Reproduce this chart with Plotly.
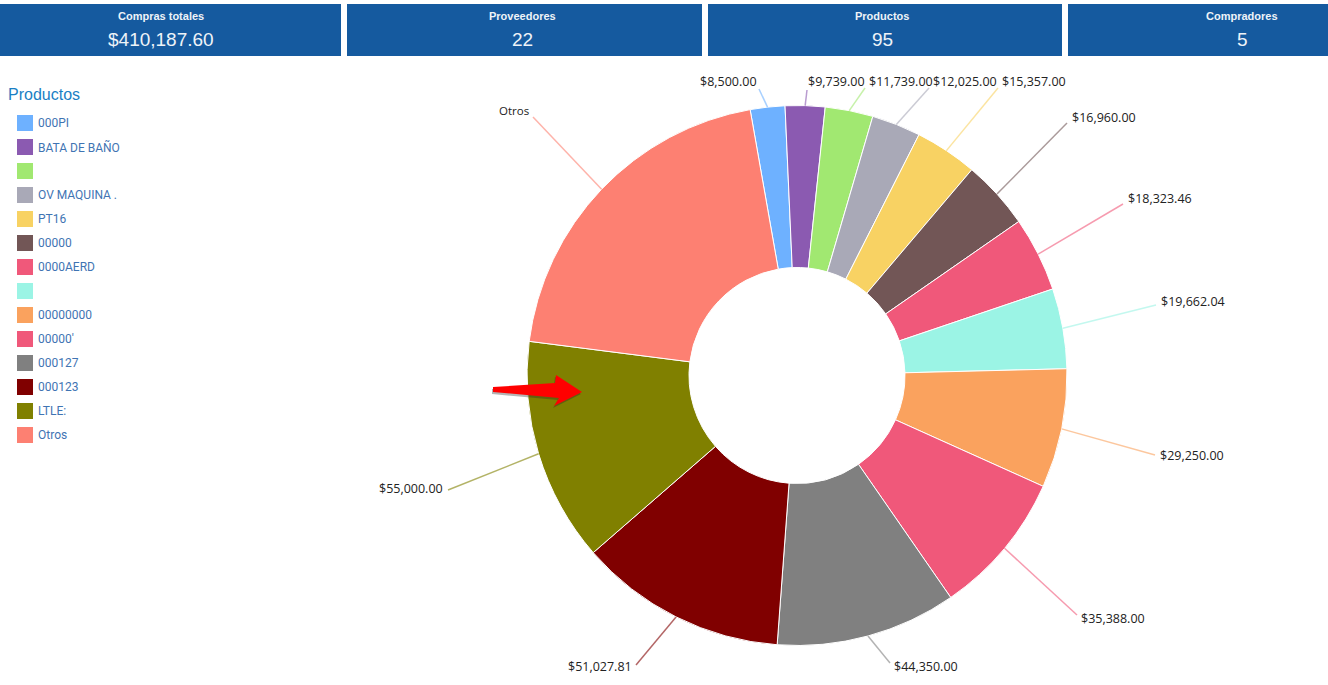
import numpy as np
import plotly.graph_objects as go

W = 1328
H = 685

# kpi cards
card_titles = ["Compras totales", "Proveedores", "Productos", "Compradores"]
card_values = ["$410,187.60", "22", "95", "5"]
card_left = [-2, 347, 708, 1068]
card_right = [341, 702, 1062, 1330]
card_center = [161, 522, 882, 1242]

# pie data
productos = ["000PI", "BATA DE BAÑO", " ", "OV MAQUINA .", "PT16", "00000", "0000AERD",
             "  ", "00000000", "00000'", "000127", "000123", "LTLE:", "Otros"]
montos = [8500.00, 9739.00, 11739.00, 12025.00, 15357.00, 16960.00, 18323.46,
          19662.04, 29250.00, 35388.00, 44350.00, 51027.81, 55000.00, 82866.29]
colores = ["#6eb1ff", "#8b5ab1", "#a1e871", "#a9a9b7", "#f8d263", "#725656", "#f0587a",
           "#9bf4e5", "#faa25e", "#f0587a", "#808080", "#800000", "#808000", "#fd8072"]

# where the leader lines end and the labels sit, in pixels
end_x = [759, 807, 865, 929, 998, 1067, 1123, 1156, 1155, 1077, 890, 636, 448, 533]
end_y = [89, 90, 88, 88, 88, 123, 204, 305, 455, 615, 663, 665, 490, 117]
label_x = [700, 808, 869, 933, 1002, 1072, 1128, 1161, 1160, 1081, 894, 632, 443, 529]
label_y = [82, 82, 82, 82, 82, 117, 199, 301, 455, 618, 666, 666, 488, 110]
label_side = ["left", "left", "left", "left", "left", "left", "left",
              "left", "left", "left", "left", "right", "right", "right"]

CX, CY, R = 797, 375.5, 270
ROTATION = 350


def px(x):
    return x / W


def py(y):
    return 1 - y / H


fig = go.Figure()
fig.add_trace(go.Pie(
    labels=productos,
    values=montos,
    sort=False,
    direction="clockwise",
    rotation=ROTATION,
    hole=0.4,
    textinfo="none",
    marker=dict(colors=colores, line=dict(color="white", width=1)),
    domain=dict(x=[px(CX - R), px(CX + R)], y=[py(CY + R), py(CY - R)]),
    showlegend=False,
))

shapes = []
annotations = []


def rgba(c, a):
    return f"rgba({int(c[1:3], 16)},{int(c[3:5], 16)},{int(c[5:7], 16)},{a})"


def add_text(x, y, text, side, family, size, color):
    annotations.append(dict(x=px(x), y=py(y), text=text, showarrow=False,
                            xref="paper", yref="paper", xanchor=side, yanchor="middle",
                            borderpad=0, borderwidth=0,
                            font=dict(family=family, size=size, color=color)))


# cards
for t, v, l, r, c in zip(card_titles, card_values, card_left, card_right, card_center):
    shapes.append(dict(type="rect", xref="paper", yref="paper", x0=px(l), x1=px(r),
                       y0=py(56), y1=py(4), fillcolor="#155a9f", line=dict(width=0)))
    add_text(c, 16, f"<b>{t}</b>", "center", "Liberation Sans", 11, "#eef3f8")
    add_text(c, 39, v, "center", "Liberation Sans", 19, "#eef3f8")

# legend
add_text(8, 94, "Productos", "left", "Liberation Sans", 16, "#1a7fc4")
for i, (p, c) in enumerate(zip(productos, colores)):
    yc = 123 + 24 * i
    shapes.append(dict(type="rect", xref="paper", yref="paper", x0=px(17), x1=px(33),
                       y0=py(yc + 8), y1=py(yc - 8), fillcolor=c, line=dict(width=0)))
    if p.strip():
        add_text(38, yc, p, "left", "Roboto", 12, "#3f74b3")

# leader lines and labels
fracs = np.array(montos) / np.sum(montos)
mids = np.radians(ROTATION + 360 * (np.cumsum(fracs) - fracs / 2))
for i, v in enumerate(montos):
    sx = CX + R * np.sin(mids[i])
    sy = CY - R * np.cos(mids[i])
    shapes.append(dict(type="line", xref="paper", yref="paper", x0=px(sx), y0=py(sy),
                       x1=px(end_x[i]), y1=py(end_y[i]),
                       line=dict(color=rgba(colores[i], 0.6), width=1.5)))
    if productos[i] == "Otros":
        add_text(label_x[i], label_y[i], "Otros", label_side[i], "Open Sans", 11.5, "#222222")
    else:
        add_text(label_x[i], label_y[i], f"${v:,.2f}", label_side[i], "Open Sans", 12.5, "#222222")

# red arrow pointing at the LTLE slice
arrow = [(493, 387), (555, 383), (556, 375), (582, 392), (554, 406), (559, 398), (493, 392)]


def arrow_path(dx, dy):
    pts = [f"{px(x + dx)},{py(y + dy)}" for x, y in arrow]
    return "M" + " L".join(pts) + " Z"


shapes.append(dict(type="path", xref="paper", yref="paper", path=arrow_path(-1, 2),
                   fillcolor="rgba(40,40,40,0.35)", line=dict(width=0)))
shapes.append(dict(type="path", xref="paper", yref="paper", path=arrow_path(0, 0),
                   fillcolor="#ff0000", line=dict(width=0)))

fig.update_layout(width=W, height=H, margin=dict(l=0, r=0, t=0, b=0),
                  paper_bgcolor="white", plot_bgcolor="white",
                  shapes=shapes, annotations=annotations)
fig.write_html("out.html", config=dict(displayModeBar=False),
               post_script="document.body.style.margin='0';document.documentElement.style.overflow='hidden';")
